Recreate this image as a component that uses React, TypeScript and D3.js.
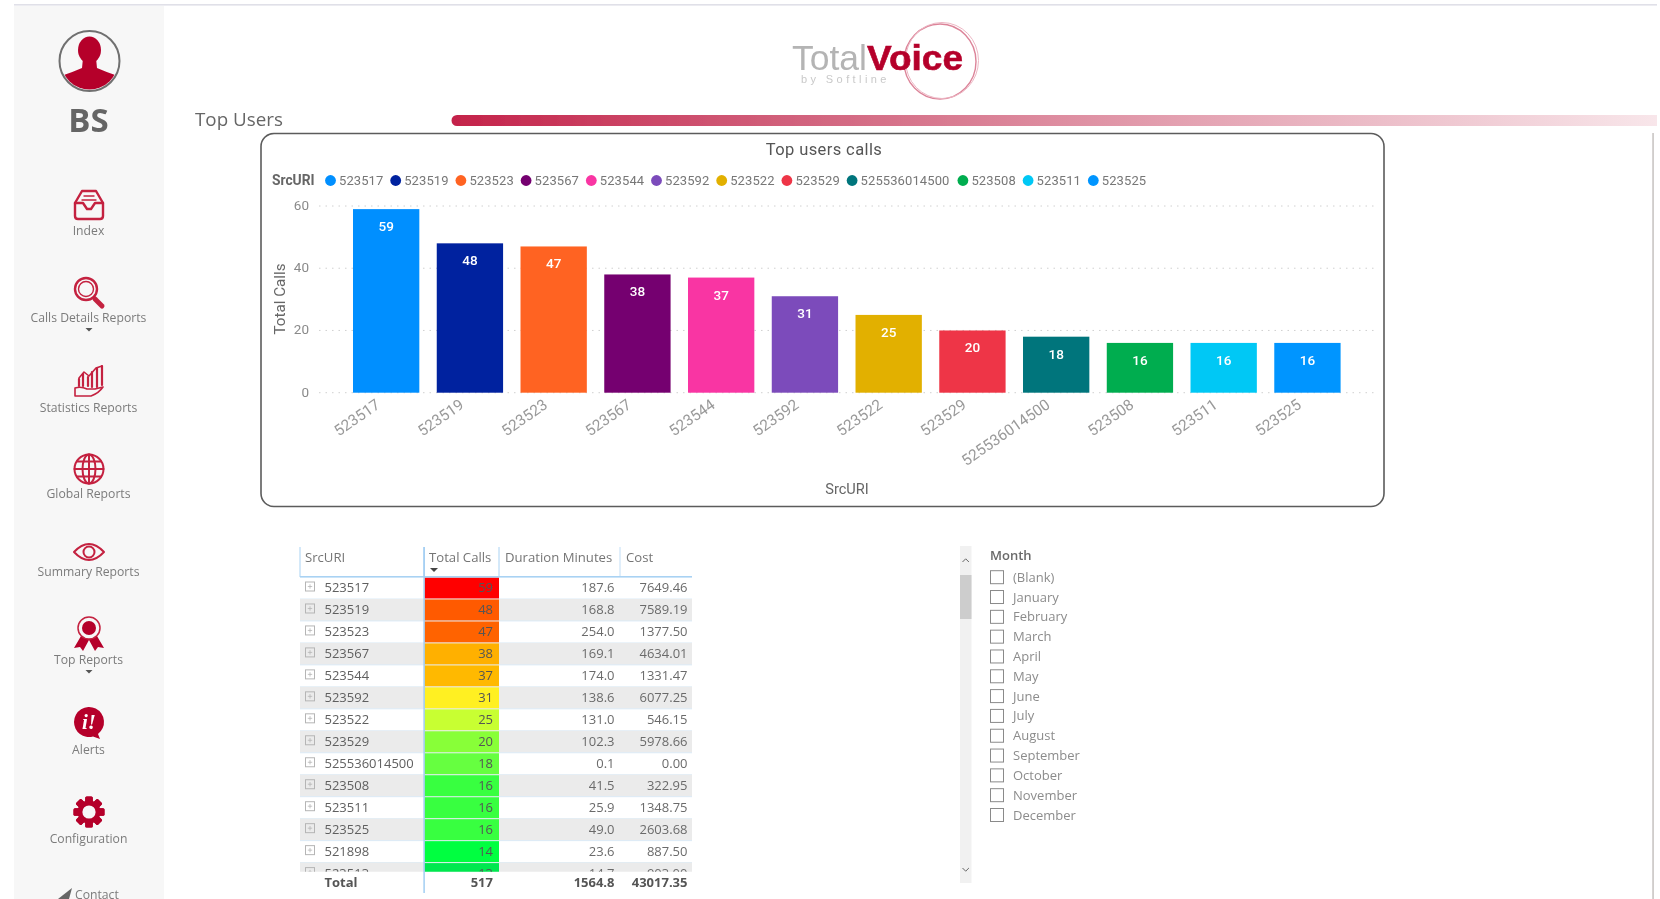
import React from "react";
import * as d3 from "d3";

const categories = ["523517","523519","523523","523567","523544","523592","523522","523529","525536014500","523508","523511","523525"];
const totalCalls = [59,48,47,38,37,31,25,20,18,16,16,16];
const barColors = ["#008fff","#00209f","#ff6424","#75006f","#f935a3","#7c4cbb","#e2b000","#ee3646","#00757c","#00ad4f","#00c8f5","#0095ff"];
const yTicks = [0,20,40,60];

const tableIds = ["523517","523519","523523","523567","523544","523592","523522","523529","525536014500","523508","523511","523525","521898","523513"];
const tableCalls = [59,48,47,38,37,31,25,20,18,16,16,16,14,13];
const tableDuration = ["187.6","168.8","254.0","169.1","174.0","138.6","131.0","102.3","0.1","41.5","25.9","49.0","23.6","14.7"];
const tableCost = ["7649.46","7589.19","1377.50","4634.01","1331.47","6077.25","546.15","5978.66","0.00","322.95","1348.75","2603.68","887.50","903.00"];
const heatColors = ["#ff0000","#ff5a00","#ff6400","#ffb000","#ffb900","#fff020","#c8ff30","#88ff38","#66ff40","#38ff40","#38ff40","#38ff40","#00ff40","#00e850"];
const tableHeaders = ["SrcURI","Total Calls","Duration Minutes","Cost"];
const totals = ["Total","517","1564.8","43017.35"];
const months = ["(Blank)","January","February","March","April","May","June","July","August","September","October","November","December"];
const navItems = [
  { label: "Index", iconY: 205, labelY: 230, caret: false, icon: "inbox" },
  { label: "Calls Details Reports", iconY: 292, labelY: 317, caret: true, icon: "search" },
  { label: "Statistics Reports", iconY: 381, labelY: 407, caret: false, icon: "stats" },
  { label: "Global Reports", iconY: 469, labelY: 493, caret: false, icon: "globe" },
  { label: "Summary Reports", iconY: 552, labelY: 571, caret: false, icon: "eye" },
  { label: "Top Reports", iconY: 634, labelY: 659, caret: true, icon: "ribbon" },
  { label: "Alerts", iconY: 722, labelY: 749, caret: false, icon: "alert" },
  { label: "Configuration", iconY: 812, labelY: 838, caret: false, icon: "gear" },
];

const RED = "#b5002c";
const ICON = "#c4203f";
const CHART_FONT = "Roboto, sans-serif";
const UI_FONT = "'Open Sans', sans-serif";

const x = d3.scaleBand<string>().domain(categories).range([353, 1340.6]).paddingInner(0.208).paddingOuter(0);
const y = d3.scaleLinear().domain([0, 60]).range([392.7, 206]);

const rowY = d3.scaleBand<number>().domain(d3.range(tableIds.length)).range([577, 577 + 21.97 * tableIds.length]);
const colEdges = [300, 424, 499, 620, 692];
const monthY = d3.scaleLinear().domain([0, 12]).range([577.2, 815]);

let legendCursor = 330.5;
const legendX = categories.map((c) => {
  const v = legendCursor;
  legendCursor += 19.6 + 7.6 * c.length;
  return v;
});

function Icon({ kind }: { kind: string }) {
  const s = { fill: "none", stroke: ICON, strokeWidth: 2.4, strokeLinejoin: "round" as const, strokeLinecap: "round" as const };
  switch (kind) {
    case "inbox":
      return (
        <g {...s}>
          <path d="M-14 -2 L-7 -14 H7 L14 -2 V11 Q14 14 11 14 H-11 Q-14 14 -14 11 Z" />
          <path d="M-14 -2 H-6 L-2 4 H2 L6 -2 H14" />
          <path d="M-5 -9 H5 M-7 -5 H7" strokeWidth={1.4} />
        </g>
      );
    case "search":
      return (
        <g {...s}>
          <circle cx={-3} cy={-3} r={11} />
          <circle cx={-3} cy={-3} r={7.5} strokeWidth={1.4} />
          <path d="M6 7 L13 14" strokeWidth={5} />
        </g>
      );
    case "stats":
      return (
        <g {...s} strokeWidth={1.6}>
          <path d="M-14 7 V15 H2 Q10 12 14 6 L6 8 L-2 8 Q-8 5 -14 7 Z" />
          <path d="M-10 5 V-2 M-6 5 V-7 M-1 5 V-4 M3 6 V-9 M8 6 V-13 M13 4 V-15" strokeWidth={2.2} />
          <path d="M-10 -3 L-5 -9 L0 -5 L7 -13 L13 -15" />
        </g>
      );
    case "globe":
      return (
        <g {...s} strokeWidth={2}>
          <circle r={14.5} />
          <ellipse rx={6.5} ry={14.5} />
          <path d="M0 -14.5 V14.5 M-14.5 0 H14.5 M-12 -7.5 H12 M-12 7.5 H12" />
        </g>
      );
    case "eye":
      return (
        <g {...s} strokeWidth={2}>
          <path d="M-15 0 Q0 -16 15 0 Q0 16 -15 0 Z" fill="none" />
          <circle r={5.5} />
        </g>
      );
    case "ribbon":
      return (
        <g>
          <path d="M-8 2 L-15 14 L-9 13 L-6 17 L0 6 L6 17 L9 13 L15 14 L8 2 Z" fill={RED} />
          <circle cy={-6} r={11} fill="#f7f7f7" stroke={ICON} strokeWidth={1.5} />
          <circle cy={-6} r={7} fill={RED} />
        </g>
      );
    case "alert":
      return (
        <g>
          <path d="M-15 0 A15 15 0 1 1 9 12 L11 17 L4 14.5 A15 15 0 0 1 -15 0 Z" fill={RED} />
          <text x={0} y={7} textAnchor="middle" fontFamily="'Liberation Serif', serif" fontStyle="italic" fontWeight={700} fontSize={21} fill="#fff">i!</text>
        </g>
      );
    case "gear":
      return (
        <g>
          {d3.range(8).map((i) => (
            <rect key={i} x={-3.8} y={-15.5} width={7.6} height={31} rx={1.5} fill={RED} transform={`rotate(${i * 45})`} />
          ))}
          <circle r={11.5} fill={RED} />
          <circle r={6.6} fill="#f7f7f7" />
        </g>
      );
  }
  return null;
}

function Sidebar() {
  return (
    <g>
      <rect x={14} y={6} width={150} height={893} fill="#f7f7f7" />
      <circle cx={89.5} cy={61} r={30} fill="#f7f7f7" stroke="#707070" strokeWidth={2} />
      <clipPath id="avatar"><circle cx={89.5} cy={61} r={28.5} /></clipPath>
      <g clipPath="url(#avatar)" fill={RED}>
        <ellipse cx={89.5} cy={50} rx={11.5} ry={13.5} />
        <path d="M83 58 H96 L97 68 Q106 72 118 76 L118 95 H61 L61 76 Q73 72 82 68 Z" />
      </g>
      <text x={88.5} y={132} textAnchor="middle" fontFamily={UI_FONT} fontWeight={700} fontSize={33} fill="#656565">BS</text>
      {navItems.map((n) => (
        <g key={n.label}>
          <g transform={`translate(89,${n.iconY})`}><Icon kind={n.icon} /></g>
          <text x={88.5} y={n.labelY + 4.5} textAnchor="middle" fontFamily={UI_FONT} fontSize={12.2} fill="#7b7b7b">{n.label}</text>
          {n.caret && <path d={`M85.5 ${n.labelY + 11} h7 l-3.5 3.6 z`} fill="#555" />}
        </g>
      ))}
      <path d="M58 899 L72 888 L69 899 Z" fill="#666" />
      <text x={75} y={898.5} fontFamily={UI_FONT} fontSize={12.2} fill="#7b7b7b">Contact</text>
    </g>
  );
}

function Header() {
  return (
    <g>
      <rect x={14} y={4} width={1643} height={1.6} fill="#e0e0e8" />
      <defs>
        <linearGradient id="band" x1="0" x2="1" y1="0" y2="0">
          <stop offset="0" stopColor="#c4234a" />
          <stop offset="0.3" stopColor="#d2657f" />
          <stop offset="0.6" stopColor="#e3a0b0" />
          <stop offset="1" stopColor="#f8e6ea" />
        </linearGradient>
      </defs>
      <path d="M457 115 H1657 V126 H457 A5.5 5.5 0 0 1 457 115 Z" fill="url(#band)" />
      <text x={195} y={125.5} fontFamily={UI_FONT} fontSize={18.8} fill="#666">Top Users</text>
      <ellipse cx={940} cy={61.5} rx={36} ry={37.5} fill="none" stroke="#dc8499" strokeWidth={1.4} />
      <ellipse cx={942} cy={60.5} rx={36.5} ry={38} fill="none" stroke="#ecb6c3" strokeWidth={1} />
      <text x={792} y={70} fontFamily="'Liberation Sans', sans-serif" fontSize={35} textLength={75} lengthAdjust="spacingAndGlyphs" fill="#b4b4b4">Total</text>
      <text x={867} y={70} fontFamily="'Liberation Sans', sans-serif" fontWeight={700} fontSize={35} textLength={96} lengthAdjust="spacingAndGlyphs" stroke={RED} strokeWidth={0.6} fill={RED}>Voice</text>
      <text x={801} y={83} fontFamily="'Liberation Sans', sans-serif" fontSize={11} letterSpacing={3.4} fill="#c9c9c9">by Softline</text>
      <rect x={1652.4} y={133} width={1.3} height={766} fill="#bdb8b6" />
    </g>
  );
}

function BarChart() {
  const grid = "#d0d0d0";
  return (
    <g fontFamily={CHART_FONT}>
      <rect x={261} y={133.5} width={1123} height={373} rx={13} fill="#fff" stroke="#5c5c5c" strokeWidth={1.6} />
      <text x={824} y={155} textAnchor="middle" fontSize={16.5} fill="#555" letterSpacing={0.4}>Top users calls</text>
      <text x={272} y={185} fontSize={13.8} fontWeight={700} fill="#666">SrcURI</text>
      {categories.map((c, i) => (
        <g key={c}>
          <circle cx={legendX[i]} cy={180.5} r={5.4} fill={barColors[i]} />
          <text x={legendX[i] + 8.5} y={185} fontSize={13} fill="#777" letterSpacing={0.1}>{c}</text>
        </g>
      ))}
      {yTicks.map((t) => (
        <g key={t}>
          <line x1={319} x2={1376} y1={y(t)} y2={y(t)} stroke={grid} strokeWidth={1} strokeDasharray="1.5 5" />
          <text x={309} y={y(t) + 4} textAnchor="end" fontSize={13.5} fill="#8a8a8a">{t}</text>
        </g>
      ))}
      <text transform="translate(285,299) rotate(-90)" textAnchor="middle" fontSize={15.2} fill="#666">Total Calls</text>
      {categories.map((c, i) => {
        const bx = x(c)!;
        return (
          <g key={c}>
            <rect x={bx} y={y(totalCalls[i])} width={x.bandwidth()} height={y(0) - y(totalCalls[i])} fill={barColors[i]} />
            <text x={bx + x.bandwidth() / 2} y={y(totalCalls[i]) + 22} textAnchor="middle" fontSize={13.5} fontWeight={500} fill="#fff">{totalCalls[i]}</text>
            <text transform={`translate(${bx + x.bandwidth() / 2 - 5},407) rotate(-35)`} textAnchor="end" fontSize={15.4} fill="#9a9a9a">{c}</text>
          </g>
        );
      })}
      <text x={847} y={494} textAnchor="middle" fontSize={14.6} fill="#666">SrcURI</text>
    </g>
  );
}

function DataTable() {
  const blue = "#a9d2f3";
  const rowEnd = 871.7;
  const textDx = [5, 5, 6, 6];
  return (
    <g fontFamily={UI_FONT} fontSize={13}>
      {tableHeaders.map((h, i) => (
        <g key={h}>
          <text x={colEdges[i] + textDx[i]} y={562} fontSize={13.15} fill="#757575">{h}</text>
          <line x1={colEdges[i]} x2={colEdges[i]} y1={547} y2={577} stroke={blue} strokeWidth={1} opacity={i === 3 ? 0.7 : 1} />
        </g>
      ))}
      <path d="M430 568 h8 l-4 4 z" fill="#444" />
      <clipPath id="rows"><rect x={300} y={577} width={392} height={rowEnd - 577} /></clipPath>
      <g clipPath="url(#rows)">
        {tableIds.map((id, i) => {
          const top = rowY(i)!;
          const h = rowY.bandwidth();
          const base = top + 15.2;
          return (
            <g key={id}>
              {i % 2 === 1 && <rect x={300} y={top} width={392} height={h} fill="#ebebeb" />}
              <line x1={300} x2={692} y1={top + h} y2={top + h} stroke="#dcebf7" strokeWidth={1} />
              <rect x={424.5} y={top + 0.5} width={74.5} height={h - 1} fill={heatColors[i]} />
              <rect x={305.5} y={top + 5} width={9} height={9} fill="none" stroke="#b5b5b5" strokeWidth={1} />
              <path d={`M307.8 ${top + 9.5} h4.4 M310 ${top + 7.3} v4.4`} stroke="#b5b5b5" strokeWidth={0.8} />
              <text x={324.5} y={base} fill="#5f5f5f">{id}</text>
              <text x={493} y={base} textAnchor="end" fill="#555">{tableCalls[i]}</text>
              <text x={614.5} y={base} textAnchor="end" fill="#6b6b6b">{tableDuration[i]}</text>
              <text x={687.5} y={base} textAnchor="end" fill="#6b6b6b">{tableCost[i]}</text>
            </g>
          );
        })}
      </g>
      <rect x={300} y={576} width={392} height={1.6} fill={blue} />
      <rect x={423.4} y={547} width={1.4} height={346} fill="#9ccbf2" />
      {totals.map((t, i) => (
        <text key={t} x={i === 0 ? 324.5 : [0, 493, 614.5, 687.5][i]} y={887} textAnchor={i === 0 ? "start" : "end"} fontWeight={700} fill="#555">{t}</text>
      ))}
    </g>
  );
}

function Slicer() {
  return (
    <g fontFamily={UI_FONT}>
      <rect x={960} y={546} width={11.5} height={337} fill="#f1f1f1" />
      <rect x={960} y={575} width={11.5} height={44} fill="#cdcdcd" />
      <path d="M962.5 562 l3.2 -3.2 l3.2 3.2 M962.5 868 l3.2 3.2 l3.2 -3.2" fill="none" stroke="#666" strokeWidth={1} />
      <text x={990} y={560.3} fontSize={13} fontWeight={600} fill="#6a6a6a">Month</text>
      {months.map((m, i) => (
        <g key={m}>
          <rect x={990.5} y={monthY(i) - 6.5} width={13} height={13} fill="#fff" stroke="#8a8a8a" strokeWidth={1} />
          <text x={1013} y={monthY(i) + 4.5} fontSize={13} fill="#8c8c8c">{m}</text>
        </g>
      ))}
    </g>
  );
}

export default function App() {
  return (
    <svg width={1660} height={899} viewBox="0 0 1660 899" style={{ position: "absolute", left: 0, top: 0, display: "block", background: "#fff" }}>
      <defs>
        <filter id="soft" x="0" y="0" width="1660" height="899" filterUnits="userSpaceOnUse" primitiveUnits="userSpaceOnUse">
          <feGaussianBlur stdDeviation={0.45} />
        </filter>
      </defs>
      <g filter="url(#soft)">
        <Header />
        <Sidebar />
        <BarChart />
        <DataTable />
        <Slicer />
      </g>
    </svg>
  );
}
